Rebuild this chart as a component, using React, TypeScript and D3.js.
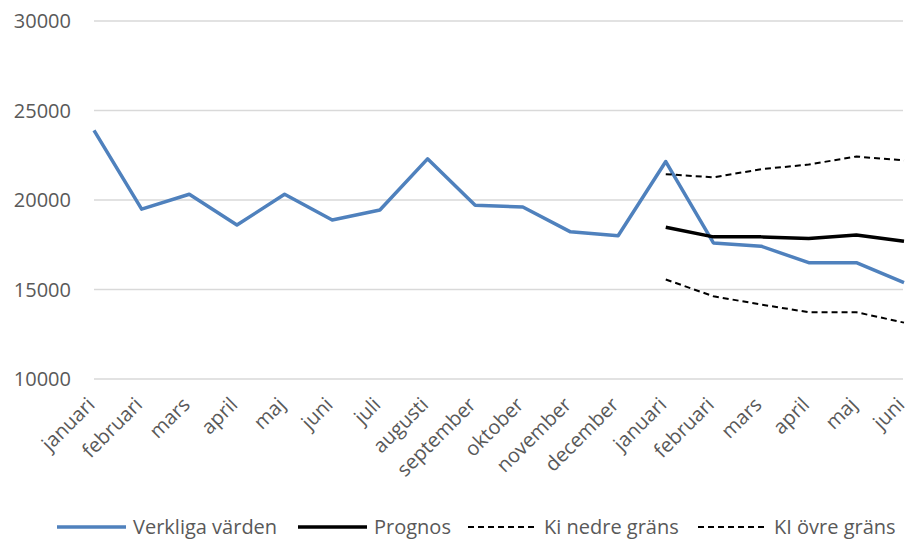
import React from "react";
import * as d3 from "d3";

const categories = [
  "januari", "februari", "mars", "april", "maj", "juni", "juli", "augusti",
  "september", "oktober", "november", "december",
  "januari", "februari", "mars", "april", "maj", "juni",
];
const verkliga = [
  23890, 19490, 20320, 18600, 20320, 18880, 19440, 22300, 19700, 19610, 18220, 18000,
  22150, 17600, 17420, 16500, 16500, 15380,
];
const prognos: (number | null)[] = [
  null, null, null, null, null, null, null, null, null, null, null, null,
  18480, 17940, 17940, 17850, 18050, 17700,
];
const kiNedre: (number | null)[] = [
  null, null, null, null, null, null, null, null, null, null, null, null,
  15560, 14620, 14160, 13730, 13730, 13150,
];
const kiOvre: (number | null)[] = [
  null, null, null, null, null, null, null, null, null, null, null, null,
  21440, 21270, 21720, 21980, 22430, 22210,
];
const yTicks = [10000, 15000, 20000, 25000, 30000];
const seriesNames = ["Verkliga värden", "Prognos", "Ki nedre gräns", "KI övre gräns"];

const W = 909;
const H = 543;
const FONT = "'Open Sans', 'Noto Sans', sans-serif";
const TEXT = "#595959";

export default function App() {
  const x = d3.scalePoint<number>().domain(categories.map((_, i) => i)).range([94, 904]);
  const y = d3.scaleLinear().domain([10000, 30000]).range([379, 21]);

  const line = d3
    .line<number | null>()
    .defined((d) => d != null)
    .x((_, i) => x(i) as number)
    .y((d) => y(d as number));

  const series = [
    { name: seriesNames[0], data: verkliga, color: "#4f81bd", width: 3.5, dash: "" },
    { name: seriesNames[1], data: prognos, color: "#000000", width: 3.5, dash: "" },
    { name: seriesNames[2], data: kiNedre, color: "#000000", width: 2, dash: "6,4" },
    { name: seriesNames[3], data: kiOvre, color: "#000000", width: 2, dash: "6,4" },
  ];

  const legendX = [57, 298, 468, 698];

  return (
    <svg width={W} height={H} style={{ position: "absolute", left: 0, top: 0, background: "#fff" }}>
      <rect width={W} height={H} fill="#fff" />
      {yTicks.map((t) => (
        <g key={t}>
          <line x1={94} x2={903} y1={y(t)} y2={y(t)} stroke="#d9d9d9" strokeWidth={1.5} />
          <text x={71} y={y(t)} dy="0.35em" textAnchor="end" fontFamily={FONT} fontSize={20} fill={TEXT}>
            {t}
          </text>
        </g>
      ))}
      {categories.map((c, i) => (
        <text
          key={i}
          transform={`translate(${(x(i) as number) - 3},${401}) rotate(-45)`}
          textAnchor="end"
          dy="0.35em"
          fontFamily={FONT}
          fontSize={20}
          fill={TEXT}
        >
          {c}
        </text>
      ))}
      {series.map((s) => (
        <path
          key={s.name}
          d={line(s.data) || ""}
          fill="none"
          stroke={s.color}
          strokeWidth={s.width}
          strokeDasharray={s.dash}
          strokeLinejoin="round"
        />
      ))}
      {series.map((s, i) => (
        <g key={"lg" + i}>
          <line
            x1={legendX[i]}
            x2={legendX[i] + 69}
            y1={527}
            y2={527}
            stroke={s.color}
            strokeWidth={s.width}
            strokeDasharray={s.dash}
          />
          <text x={legendX[i] + 76} y={527} dy="0.35em" fontFamily={FONT} fontSize={20} fill={TEXT}>
            {s.name}
          </text>
        </g>
      ))}
    </svg>
  );
}
